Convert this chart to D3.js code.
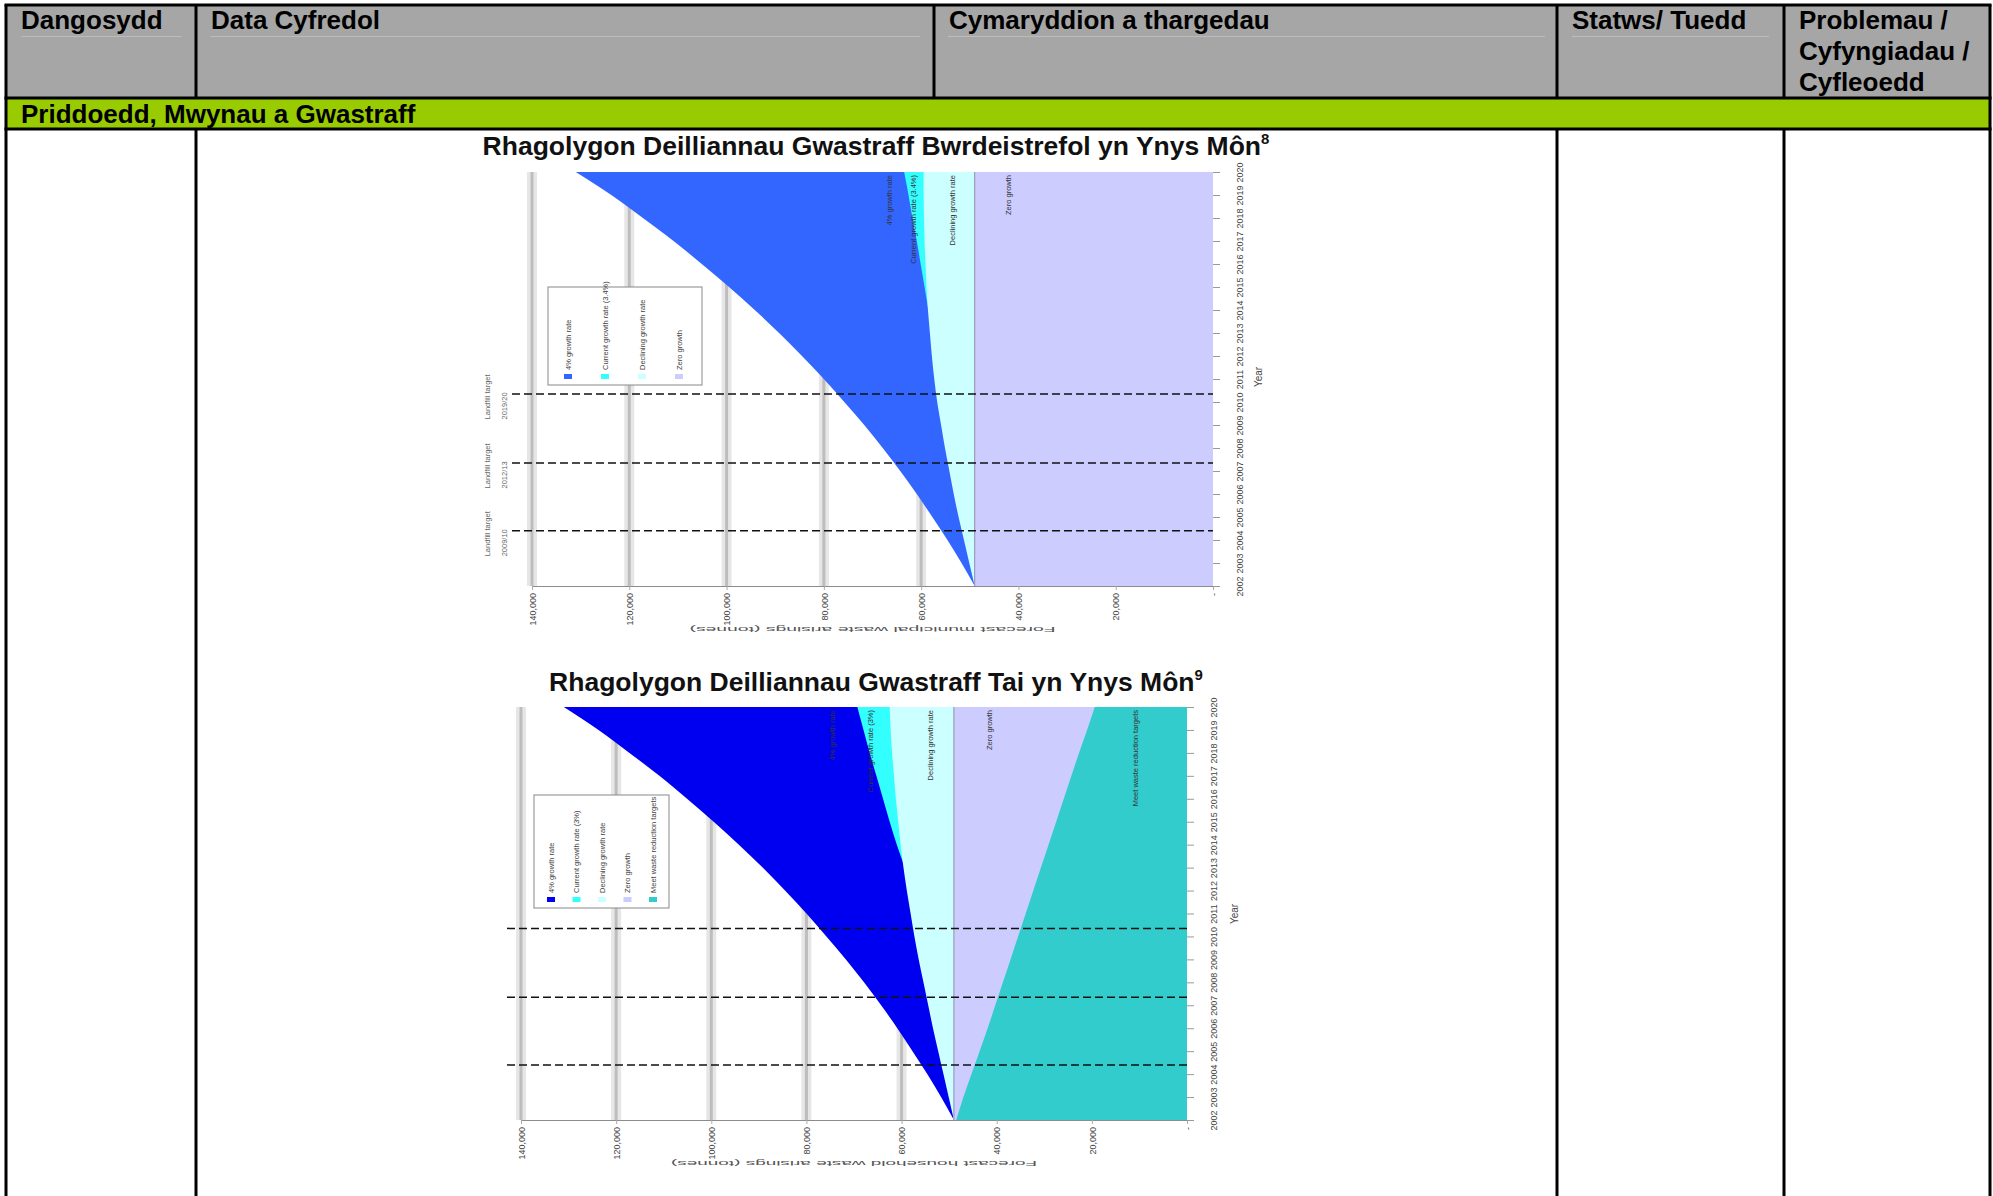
<!DOCTYPE html>
<html>
<head>
<meta charset="utf-8">
<script src="https://cdn.jsdelivr.net/npm/d3@7"></script>
<style>
body { margin: 0; background: #fff; }
svg { display: block; font-family: "Liberation Sans", Arial, sans-serif; }
</style>
</head>
<body>
<div id="page"></div>
<script>
// Table text
var headerLines = [["Dangosydd"], ["Data Cyfredol"], ["Cymaryddion a thargedau"], ["Statws/ Tuedd"], ["Problemau /", "Cyfyngiadau /", "Cyfleoedd"]];
var sectionTitle = "Priddoedd, Mwynau a Gwastraff";

// Forecast data (tonnes per year)
var years = [2002, 2003, 2004, 2005, 2006, 2007, 2008, 2009, 2010, 2011, 2012, 2013, 2014, 2015, 2016, 2017, 2018, 2019, 2020];
var growthFour = [49000, 51700, 54600, 57700, 60900, 64300, 67900, 71700, 75800, 80000, 84500, 89200, 94200, 99500, 105100, 110900, 117200, 123700, 131000];
var currentMunicipal = [49000, 49700, 50400, 51100, 51800, 52500, 53300, 54100, 54900, 55800, 56700, 57600, 58500, 59300, 60100, 60900, 61800, 62600, 63500];
var decliningMunicipal = [49000, 50100, 51200, 52300, 53300, 54200, 55100, 55900, 56700, 57300, 57800, 58200, 58600, 58900, 59100, 59300, 59400, 59500, 59500];
var currentHousehold = [49000, 49600, 50200, 50800, 51500, 52200, 53000, 53900, 54900, 56000, 57500, 59300, 61000, 62500, 63900, 65300, 66700, 68000, 69300];
var decliningHousehold = [49000, 50100, 51200, 52300, 53400, 54400, 55400, 56400, 57300, 58100, 58900, 59600, 60200, 60700, 61200, 61600, 62000, 62300, 62500];
var growthZero = [49000, 49000, 49000, 49000, 49000, 49000, 49000, 49000, 49000, 49000, 49000, 49000, 49000, 49000, 49000, 49000, 49000, 49000, 49000];
var meetTargets = [48500, 47000, 45300, 43600, 41900, 40300, 38700, 37100, 35500, 33900, 32300, 30700, 29100, 27500, 25900, 24300, 22700, 21000, 19400];

var valueTicks = [140000, 120000, 100000, 80000, 60000, 40000, 20000, 0];
var targetYears = [2004.4, 2007.35, 2010.35];
var targetLabels = ["2009/10", "2012/13", "2019/20"];

var seriesNames1 = ["4% growth rate", "Current growth rate (3.4%)", "Declining growth rate", "Zero growth"];
var seriesNames2 = ["4% growth rate", "Current growth rate (3%)", "Declining growth rate", "Zero growth", "Meet waste reduction targets"];

// Page
var svg = d3.select("#page")
    .append("svg")
    .attr("width", 1993)
    .attr("height", 1196);

var colX = [6, 196, 934, 1557, 1784, 1990];
var pageBottom = 1196;

// header and section backgrounds
svg.append("rect").attr("x", 6).attr("y", 5).attr("width", 1984).attr("height", 93).attr("fill", "#a6a6a6");
svg.append("rect").attr("x", 6).attr("y", 98).attr("width", 1984).attr("height", 31).attr("fill", "#99cc00");

// faint text-box lines in the header
[[21, 182], [210, 920], [948, 1545], [1572, 1769]].forEach(function(s) {
    svg.append("line").attr("x1", s[0]).attr("x2", s[1]).attr("y1", 36.5).attr("y2", 36.5)
        .attr("stroke", "#bcbcbc").attr("stroke-width", 1);
});

// header text
headerLines.forEach(function(lines, i) {
    var t = svg.append("text")
        .attr("x", colX[i] + 15)
        .attr("y", 29)
        .attr("font-size", 26)
        .attr("font-weight", "bold")
        .attr("fill", "#000");
    lines.forEach(function(l, j) {
        t.append("tspan").attr("x", colX[i] + 15).attr("dy", j === 0 ? 0 : 31).text(l);
    });
});

svg.append("text")
    .attr("x", 21)
    .attr("y", 123)
    .attr("font-size", 26)
    .attr("font-weight", "bold")
    .text(sectionTitle);

// table borders
var borders = svg.append("g").attr("stroke", "#000").attr("stroke-width", 3);
[5, 98, 129].forEach(function(yy) {
    borders.append("line").attr("x1", 4.5).attr("x2", 1991.5).attr("y1", yy).attr("y2", yy);
});
colX.forEach(function(xx, i) {
    if (i === 0 || i === 5) {
        borders.append("line").attr("x1", xx).attr("x2", xx).attr("y1", 5).attr("y2", pageBottom);
    } else if (i === 2) {
        borders.append("line").attr("x1", xx).attr("x2", xx).attr("y1", 5).attr("y2", 98);
    } else {
        borders.append("line").attr("x1", xx).attr("x2", xx).attr("y1", 5).attr("y2", 98);
        borders.append("line").attr("x1", xx).attr("x2", xx).attr("y1", 129).attr("y2", pageBottom);
    }
});

// Draws one of the rotated forecast charts
function drawChart(cfg) {
    var g = svg.append("g");

    // chart title
    var title = g.append("text")
        .attr("x", 876)
        .attr("y", cfg.titleY)
        .attr("text-anchor", "middle")
        .attr("font-size", 26.5)
        .attr("font-weight", "bold")
        .attr("fill", "#111")
        .text(cfg.title);
    title.append("tspan").attr("dy", -11).attr("font-size", 15).text(cfg.sup);

    var x = d3.scaleLinear().domain([140000, 0]).range([cfg.left, cfg.right]);
    var y = d3.scaleLinear().domain([2002, 2020]).range([cfg.bottom, cfg.top]);

    // gridlines (blurry grey bands)
    var grid = valueTicks.filter(function(d) { return d > 0; });
    g.selectAll(".gridHalo").data(grid).join("line")
        .attr("x1", d => x(d)).attr("x2", d => x(d))
        .attr("y1", cfg.top).attr("y2", cfg.bottom)
        .attr("stroke", "#e6e6e6").attr("stroke-width", 10);
    g.selectAll(".gridLine").data(grid).join("line")
        .attr("x1", d => x(d)).attr("x2", d => x(d))
        .attr("y1", cfg.top).attr("y2", cfg.bottom)
        .attr("stroke", "#bdbdbd").attr("stroke-width", 3);

    // overlapping areas, each drawn from zero
    var area = d3.area()
        .y(d => y(d.year))
        .x0(x(0))
        .x1(d => x(d.value))
        .curve(d3.curveMonotoneY);

    cfg.series.forEach(function(s) {
        var rows = years.map(function(yr, i) { return { year: yr, value: s.values[i] }; });
        g.append("path")
            .datum(rows)
            .attr("d", area)
            .attr("fill", s.color);
    });

    // zero growth edge
    g.append("line")
        .attr("x1", x(growthZero[0])).attr("x2", x(growthZero[0]))
        .attr("y1", y(2002)).attr("y2", y(2020))
        .attr("stroke", "#9a9ab8").attr("stroke-width", 1.2);

    // series labels inside the areas
    cfg.series.forEach(function(s, i) {
        g.append("text")
            .attr("transform", `translate(${x(cfg.labelAt[i])}, ${cfg.top + 3}) rotate(-90)`)
            .attr("text-anchor", "end")
            .attr("dy", "0.35em")
            .attr("font-size", 7.5)
            .attr("fill", "#333")
            .text(s.name);
    });

    // target years (dashed)
    g.selectAll(".target").data(targetYears).join("line")
        .attr("x1", cfg.left - cfg.dashExtra).attr("x2", cfg.right)
        .attr("y1", d => y(d)).attr("y2", d => y(d))
        .attr("stroke", "#111").attr("stroke-width", 1.5)
        .attr("stroke-dasharray", "8,4");

    if (cfg.targetText) {
        targetYears.forEach(function(t, i) {
            g.append("text")
                .attr("transform", `translate(${cfg.left - 45}, ${y(t) + 3}) rotate(-90)`)
                .attr("text-anchor", "middle")
                .attr("dy", "0.35em")
                .attr("font-size", 7.5)
                .attr("fill", "#666")
                .text("Landfill target");
            g.append("text")
                .attr("transform", `translate(${cfg.left - 28}, ${y(t) + 12}) rotate(-90)`)
                .attr("text-anchor", "middle")
                .attr("dy", "0.35em")
                .attr("font-size", 7.5)
                .attr("fill", "#666")
                .text(targetLabels[i]);
        });
    }

    // value axis (bottom), labels rotated
    var bottomAxis = d3.axisBottom(x)
        .tickValues(valueTicks)
        .tickSize(4)
        .tickSizeOuter(0)
        .tickFormat(d => d === 0 ? "-" : d3.format(",")(d));
    var xAxis = g.append("g")
        .attr("transform", `translate(0, ${cfg.bottom})`)
        .call(bottomAxis);
    xAxis.select(".domain").attr("stroke", "#8c8c8c");
    xAxis.selectAll(".tick line").attr("stroke", "#aaa");
    xAxis.selectAll("text")
        .attr("transform", "rotate(-90)")
        .attr("x", -7)
        .attr("y", 0)
        .attr("dy", "0.35em")
        .attr("text-anchor", "end")
        .attr("font-size", 9)
        .attr("font-family", "Liberation Sans, Arial, sans-serif")
        .attr("fill", "#444");

    // year axis (right), labels rotated
    var rightAxis = d3.axisRight(y)
        .tickValues(years)
        .tickSize(7)
        .tickFormat(d3.format("d"));
    var yAxis = g.append("g")
        .attr("transform", `translate(${cfg.right}, 0)`)
        .call(rightAxis);
    yAxis.select(".domain").remove();
    yAxis.selectAll(".tick line").attr("stroke", "#999");
    yAxis.selectAll("text")
        .attr("transform", "translate(27, 0) rotate(-90)")
        .attr("x", 0)
        .attr("dy", "0.35em")
        .attr("text-anchor", "middle")
        .attr("font-size", 9)
        .attr("font-family", "Liberation Sans, Arial, sans-serif")
        .attr("fill", "#444");

    g.append("text")
        .attr("transform", `translate(${cfg.right + cfg.yearTitleDx}, ${cfg.yearTitleY}) rotate(-90)`)
        .attr("text-anchor", "middle")
        .attr("dy", "0.35em")
        .attr("font-size", 10)
        .attr("fill", "#444")
        .text("Year");

    // upside-down axis title
    g.append("text")
        .attr("transform", `translate(${(cfg.left + cfg.right) / 2}, ${cfg.axisTitleY}) rotate(180)`)
        .attr("text-anchor", "middle")
        .attr("dy", "0.35em")
        .attr("font-size", 6.5)
        .attr("textLength", 366)
        .attr("lengthAdjust", "spacingAndGlyphs")
        .attr("fill", "#555")
        .text(cfg.axisTitle);

    // legend
    var lg = g.append("g");
    lg.append("rect")
        .attr("x", cfg.legend.x).attr("y", cfg.legend.y)
        .attr("width", cfg.legend.w).attr("height", cfg.legend.h)
        .attr("fill", "#fff").attr("stroke", "#888").attr("stroke-width", 1);
    cfg.series.forEach(function(s, i) {
        var cx = cfg.legend.x + cfg.legend.first + i * cfg.legend.step;
        var sy = cfg.legend.y + cfg.legend.h - 11;
        lg.append("rect")
            .attr("x", cx - 4).attr("y", sy)
            .attr("width", 8).attr("height", 5)
            .attr("fill", s.color);
        lg.append("text")
            .attr("transform", `translate(${cx}, ${sy - 4}) rotate(-90)`)
            .attr("dy", "0.35em")
            .attr("font-size", 7.5)
            .attr("fill", "#444")
            .text(s.name);
    });
}

// Municipal waste chart
drawChart({
    title: "Rhagolygon Deilliannau Gwastraff Bwrdeistrefol yn Ynys Môn",
    sup: "8",
    titleY: 155,
    left: 532, right: 1213, top: 172, bottom: 586,
    series: [
        { name: seriesNames1[0], values: growthFour, color: "#3366ff" },
        { name: seriesNames1[1], values: currentMunicipal, color: "#33ffff" },
        { name: seriesNames1[2], values: decliningMunicipal, color: "#ccffff" },
        { name: seriesNames1[3], values: growthZero, color: "#ccccff" }
    ],
    labelAt: [66500, 61500, 53500, 42000],
    targetText: true,
    dashExtra: 20,
    yearTitleDx: 45, yearTitleY: 377,
    axisTitleY: 629,
    axisTitle: "Forecast municipal waste arisings (tonnes)",
    legend: { x: 548, y: 287, w: 154, h: 98, first: 20, step: 37 }
});

// Household waste chart
drawChart({
    title: "Rhagolygon Deilliannau Gwastraff Tai yn Ynys Môn",
    sup: "9",
    titleY: 691,
    left: 521, right: 1187, top: 707, bottom: 1120,
    series: [
        { name: seriesNames2[0], values: growthFour, color: "#0000f0" },
        { name: seriesNames2[1], values: currentHousehold, color: "#33ffff" },
        { name: seriesNames2[2], values: decliningHousehold, color: "#ccffff" },
        { name: seriesNames2[3], values: growthZero, color: "#ccccff" },
        { name: seriesNames2[4], values: meetTargets, color: "#33cccc" }
    ],
    labelAt: [74600, 66500, 54000, 41500, 10900],
    targetText: false,
    dashExtra: 14,
    yearTitleDx: 47, yearTitleY: 914,
    axisTitleY: 1163,
    axisTitle: "Forecast household waste arisings (tonnes)",
    legend: { x: 534, y: 795, w: 135, h: 113, first: 17, step: 25.5 }
});
</script>
</body>
</html>
